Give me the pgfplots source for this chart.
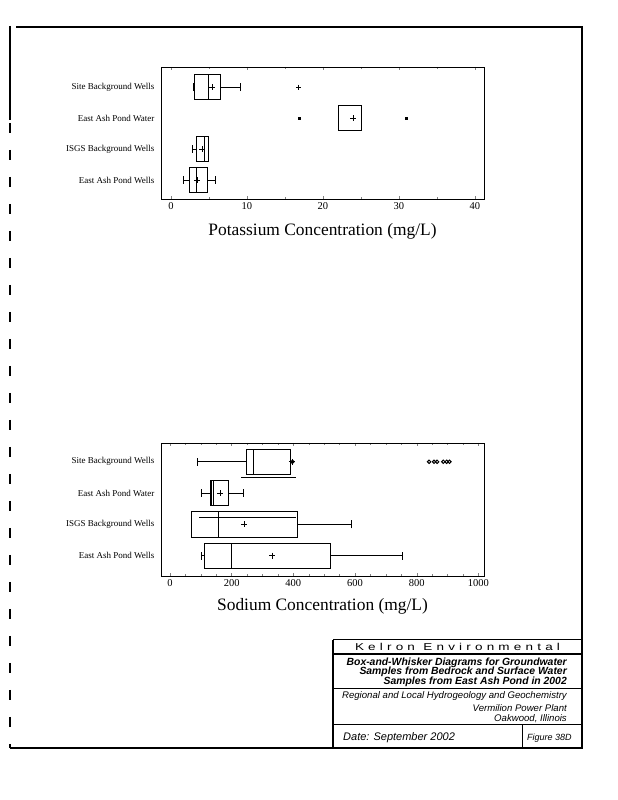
\documentclass[border=0pt]{standalone}
\usepackage{fontspec}
\setmainfont{Liberation Serif}
\newfontfamily\arial{Liberation Sans}
\newfontfamily\wide[FakeStretch=1.35]{Liberation Sans}
\usepackage{pgfplots}
\pgfplotsset{compat=1.18}
\usepgfplotslibrary{statistics}
\pgfplotsset{
  mybox/.style={
    scale only axis, width=323pt,
    ytick={1,2,3,4},
    yticklabels={East Ash Pond Wells, ISGS Background Wells, East Ash Pond Water, Site Background Wells},
    yticklabel style={font=\fontsize{9}{10}\selectfont, xshift=-3pt},
    ytick style={draw=none},
    xticklabel style={font=\fontsize{10.5}{11}\selectfont},
    /pgf/number format/assume math mode=true,
    /pgf/number format/1000 sep={},
    tick align=inside,
    major tick length=3pt, minor tick length=2pt,
    axis line style={line width=0.8pt},
    x tick style={line width=0.5pt},
    xlabel style={font=\fontsize{17.4}{19}\selectfont, anchor=center},
  },
  bx/.style={black, line width=0.7pt, solid},
}
\begin{document}
\begin{tikzpicture}[x=1pt,y=1pt]
\path[use as bounding box] (0pt,0pt) rectangle (618pt,800pt);
% page frame
\draw[line width=2pt] (16pt,773pt) -- (582pt,773pt) -- (582pt,52pt) -- (10pt,52pt);
\draw[line width=2pt] (10pt,774pt) -- (10pt,680pt);
\draw[line width=2pt, dash pattern=on 10pt off 17pt] (10pt,677pt) -- (10pt,52pt);

% ---------- Potassium ----------
\begin{axis}[mybox, at={(161pt,601pt)}, anchor=south west, height=132pt,
  xmin=-1.3, xmax=41.2, ymin=0.39, ymax=4.65,
  xtick={0,10,20,30,40}, minor x tick num=1,
  xlabel={Potassium Concentration (mg/L)},
  xlabel style={at={(axis description cs:0.5,-0.245)}}]
\addplot[bx, mark=+, mark size=2.5pt, mark options={line width=1.2pt},
  boxplot prepared={draw position=4, lower whisker=2.95, lower quartile=3.07,
  median=4.95, upper quartile=6.5, upper whisker=9.1, box extend=0.8, whisker extend=0.25}]
  table[row sep=\\, y index=0] {16.8\\};
\addplot[bx, mark=square*, mark size=1.2pt,
  boxplot prepared={draw position=3, lower whisker=22.0, lower quartile=22.0,
  median=22.0, upper quartile=25.0, upper whisker=25.0, box extend=0.8, whisker extend=0}]
  table[row sep=\\, y index=0] {16.9\\ 31.0\\};
\addplot[bx,
  boxplot prepared={draw position=2, lower whisker=2.85, lower quartile=3.4,
  median=4.35, upper quartile=4.95, upper whisker=4.95, box extend=0.8, whisker extend=0.25}]
  coordinates {};
\addplot[bx,
  boxplot prepared={draw position=1, lower whisker=1.7, lower quartile=2.45,
  median=3.4, upper quartile=4.8, upper whisker=5.9, box extend=0.8, whisker extend=0.25}]
  coordinates {};
% means
\addplot[only marks, mark=+, mark size=3pt, line width=0.6pt]
  coordinates {(5.4,4) (24.0,3) (4.1,2) (3.5,1)};
\end{axis}

% ---------- Sodium ----------
\begin{axis}[mybox, at={(161pt,224pt)}, anchor=south west, height=133pt,
  xmin=-29, xmax=1018, ymin=0.35, ymax=4.6,
  xtick={0,200,400,600,800,1000}, minor x tick num=3,
  xlabel={Sodium Concentration (mg/L)},
  xlabel style={at={(axis description cs:0.5,-0.225)}}]
\addplot[bx, mark=o, mark size=1.7pt, mark options={line width=1pt},
  boxplot prepared={draw position=4, lower whisker=90, lower quartile=249,
  median=269, upper quartile=389, upper whisker=389, box extend=0.8, whisker extend=0.25}]
  table[row sep=\\, y index=0] {397\\ 840\\ 856\\ 866\\ 886\\ 897\\ 906\\};
\addplot[bx,
  boxplot prepared={draw position=3, lower whisker=103, lower quartile=130,
  median=135, upper quartile=190, upper whisker=239, box extend=0.8, whisker extend=0.25}]
  coordinates {};
\addplot[bx,
  boxplot prepared={draw position=2, lower whisker=69, lower quartile=69,
  median=157, upper quartile=413, upper whisker=589, box extend=0.8, whisker extend=0.25}]
  coordinates {};
\addplot[bx,
  boxplot prepared={draw position=1, lower whisker=101, lower quartile=111,
  median=200, upper quartile=521, upper whisker=753, box extend=0.8, whisker extend=0.25}]
  coordinates {};
% extra lines seen in the scan
\addplot[bx] coordinates {(141,2.6) (141,3.4)};
\addplot[bx, line width=0.9pt] coordinates {(230,3.5) (408,3.5)};
\addplot[bx, line width=0.9pt] coordinates {(95,2.21) (409,2.21)};
% means
\addplot[only marks, mark=+, mark size=3pt, line width=0.6pt]
  coordinates {(395,4) (162,3) (241,2) (331,1)};
\end{axis}

% ---------- title block ----------
\draw[line width=1pt] (333pt,160pt) -- (582pt,160pt);
\draw[line width=1.6pt] (333pt,146pt) -- (582pt,146pt);
\draw[line width=1pt] (333pt,111pt) -- (582pt,111pt);
\draw[line width=1pt] (333pt,75pt) -- (582pt,75pt);
\draw[line width=1.2pt] (333pt,160pt) -- (333pt,52pt);
\draw[line width=1pt] (522pt,75pt) -- (522pt,52pt);
\node[inner sep=0pt] at (457.5pt,153pt) {\wide\fontsize{10}{11}\selectfont
  \makebox[205pt]{K\hfill e\hfill l\hfill r\hfill o\hfill n\hfill\hfill E\hfill n\hfill v\hfill i\hfill r\hfill o\hfill n\hfill m\hfill e\hfill n\hfill t\hfill a\hfill l}};
\begin{scope}[every node/.style={inner sep=0pt, anchor=base east}]
\node at (567pt,134pt) {\arial\bfseries\itshape\fontsize{10.4}{11}\selectfont Box-and-Whisker Diagrams for Groundwater};
\node at (567pt,125pt) {\arial\bfseries\itshape\fontsize{10.4}{11}\selectfont Samples from Bedrock and Surface Water};
\node at (567pt,115pt) {\arial\bfseries\itshape\fontsize{10.4}{11}\selectfont Samples from East Ash Pond in 2002};
\node at (567pt,101pt) {\arial\itshape\fontsize{9.6}{10}\selectfont Regional and Local Hydrogeology and Geochemistry};
\node at (567pt,88pt) {\arial\itshape\fontsize{9.6}{10}\selectfont Vermilion Power Plant};
\node at (567pt,78pt) {\arial\itshape\fontsize{9.6}{10}\selectfont Oakwood, Illinois};
\end{scope}
\node[inner sep=0pt, anchor=base west] at (343pt,59pt) {\arial\itshape\fontsize{11}{12}\selectfont Date: September 2002};
\node[inner sep=0pt, anchor=base west] at (527pt,59pt) {\arial\itshape\fontsize{9}{10}\selectfont Figure 38D};
\end{tikzpicture}
\end{document}
